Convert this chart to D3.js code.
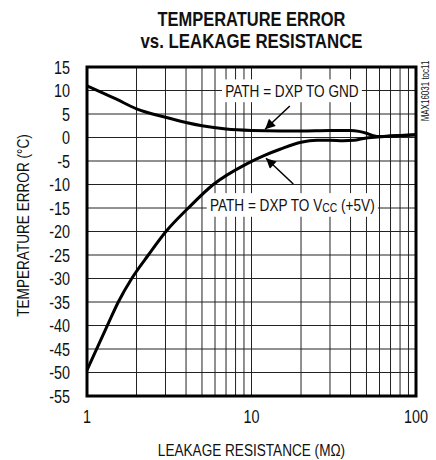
<!DOCTYPE html>
<html>
<head>
<meta charset="utf-8">
<script src="https://cdn.jsdelivr.net/npm/d3@7"></script>
<style>
    body { margin: 0; background: #fff; }
    text { font-family: "Liberation Sans", Arial, sans-serif; fill: #111; }
</style>
</head>
<body>
<svg id="chart"></svg>
<script>
// leakage resistance (MOhm) and temperature error (deg C)
var gnd_r = [1, 1.5, 2, 3, 4, 5, 7, 10, 15, 20, 30, 40, 45, 50, 55, 60, 70, 100];
var gnd_err = [11, 8.2, 6.1, 4.3, 3.2, 2.5, 1.8, 1.5, 1.4, 1.4, 1.5, 1.5, 1.3, 0.9, 0.4, 0.2, 0.3, 0.6];

var vcc_r = [1, 1.35, 1.55, 1.87, 2.36, 3.02, 4.13, 5.86, 9.35, 12, 14.9, 20, 25, 30, 36, 42, 48, 58, 70, 100];
var vcc_err = [-49.5, -39.5, -35, -30, -25, -20, -15, -10, -5.6, -3.8, -2.5, -1.0, -0.6, -0.6, -0.7, -0.6, -0.2, 0.1, 0.3, 0.6];

var x_ticks = [1, 10, 100];
var y_ticks = d3.range(15, -56, -5);

var width = 436, height = 460;
var margin = {top: 67, right: 20, bottom: 64, left: 87};
var narrow = 0.8; // squeeze to look like a condensed face

var svg = d3.select("#chart")
    .attr("width", width)
    .attr("height", height);

var x = d3.scaleLog()
    .domain([1, 100])
    .range([margin.left, width - margin.right]);

var y = d3.scaleLinear()
    .domain([-55, 15])
    .range([height - margin.bottom, margin.top]);

function at(px, py, rot) {
    return "translate(" + px + "," + py + ")" + (rot ? " rotate(" + rot + ")" : "") + " scale(" + narrow + ",1)";
}

// grid
var minor = [];
[1, 10].forEach(function(dec) {
    for(var i = 2; i <= 9; i++) minor.push(i * dec);
});
minor.push(10);

svg.append("g")
    .selectAll("line")
    .data(minor)
    .enter()
    .append("line")
        .attr("x1", d => x(d))
        .attr("x2", d => x(d))
        .attr("y1", y(15))
        .attr("y2", y(-55))
        .attr("stroke", "#222")
        .attr("stroke-width", 1);

svg.append("g")
    .selectAll("line")
    .data(y_ticks.slice(1, -1))
    .enter()
    .append("line")
        .attr("x1", x(1))
        .attr("x2", x(100))
        .attr("y1", d => y(d))
        .attr("y2", d => y(d))
        .attr("stroke", "#222")
        .attr("stroke-width", 1);

// curves
var line = d3.line()
    .x(d => x(d[0]))
    .y(d => y(d[1]))
    .curve(d3.curveMonotoneX);

[[gnd_r, gnd_err], [vcc_r, vcc_err]].forEach(function(s) {
    svg.append("path")
        .datum(d3.zip(s[0], s[1]))
        .attr("fill", "none")
        .attr("stroke", "#000")
        .attr("stroke-width", 3)
        .attr("stroke-linejoin", "round")
        .attr("d", line);
});

// frame
svg.append("rect")
    .attr("x", x(1))
    .attr("y", y(15))
    .attr("width", x(100) - x(1))
    .attr("height", y(-55) - y(15))
    .attr("fill", "none")
    .attr("stroke", "#000")
    .attr("stroke-width", 3);

// annotations
var notes = [
    {text: "PATH = DXP TO GND", sub: null, rest: null, at: [17.6, 9.6], tip: [12.1, 1.75], tail: [17.1, 6.7]},
    {text: "PATH = DXP TO V", sub: "CC", rest: " (+5V)", at: [17.7, -14.6], tip: [12.25, -4.4], tail: [17.95, -9.9]}
];

svg.append("defs").append("marker")
    .attr("id", "head")
    .attr("viewBox", "0 0 10 10")
    .attr("refX", 10)
    .attr("refY", 5)
    .attr("markerWidth", 13)
    .attr("markerHeight", 10)
    .attr("markerUnits", "userSpaceOnUse")
    .attr("orient", "auto")
    .append("path")
        .attr("d", "M0,0L10,5L0,10Z")
        .attr("fill", "#000");

notes.forEach(function(n) {
    var g = svg.append("g").attr("transform", at(x(n.at[0]), y(n.at[1])));
    var box = g.append("rect").attr("fill", "#fff");
    var t = g.append("text")
        .attr("text-anchor", "middle")
        .attr("dominant-baseline", "middle")
        .style("font-size", "17px");
    t.append("tspan").text(n.text);
    if(n.sub) {
        t.append("tspan").text(n.sub).style("font-size", "13px").attr("dy", "3");
        t.append("tspan").text(n.rest).attr("dy", "-3");
    }
    var b = t.node().getBBox();
    box.attr("x", b.x - 4)
        .attr("y", b.y - 2)
        .attr("width", b.width + 8)
        .attr("height", b.height + 4);

    svg.append("line")
        .attr("x1", x(n.tail[0]))
        .attr("y1", y(n.tail[1]))
        .attr("x2", x(n.tip[0]))
        .attr("y2", y(n.tip[1]))
        .attr("stroke", "#000")
        .attr("stroke-width", 1.5)
        .attr("marker-end", "url(#head)");
});

// tick labels
svg.append("g")
    .selectAll("text")
    .data(y_ticks)
    .enter()
    .append("text")
        .attr("transform", d => at(x(1) - 17, y(d) + 6.5))
        .attr("text-anchor", "end")
        .style("font-size", "18px")
        .text(d => d);

svg.append("g")
    .selectAll("text")
    .data(x_ticks)
    .enter()
    .append("text")
        .attr("transform", d => at(x(d), y(-55) + 27))
        .attr("text-anchor", "middle")
        .style("font-size", "18px")
        .text(d => d);

// axis titles
svg.append("text")
    .attr("transform", at((x(1) + x(100)) / 2, 456))
    .attr("text-anchor", "middle")
    .style("font-size", "17px")
    .text("LEAKAGE RESISTANCE (M\u03A9)");

svg.append("text")
    .attr("transform", at(29, (y(15) + y(-55)) / 2 - 6, -90))
    .attr("text-anchor", "middle")
    .style("font-size", "17px")
    .text("TEMPERATURE ERROR (\u00B0C)");

svg.append("text")
    .attr("transform", at(429, y(15) + 24, -90))
    .attr("text-anchor", "middle")
    .style("font-size", "10px")
    .text("MAX16031 toc11");

// title
var title = [["TEMPERATURE ERROR", 26, 188], ["vs. LEAKAGE RESISTANCE", 48, 222]];
svg.append("g")
    .selectAll("text")
    .data(title)
    .enter()
    .append("text")
        .attr("x", (x(1) + x(100)) / 2)
        .attr("y", d => d[1])
        .attr("text-anchor", "middle")
        .attr("textLength", d => d[2])
        .attr("lengthAdjust", "spacingAndGlyphs")
        .style("font-size", "21px")
        .style("font-weight", "bold")
        .text(d => d[0]);
</script>
</body>
</html>
